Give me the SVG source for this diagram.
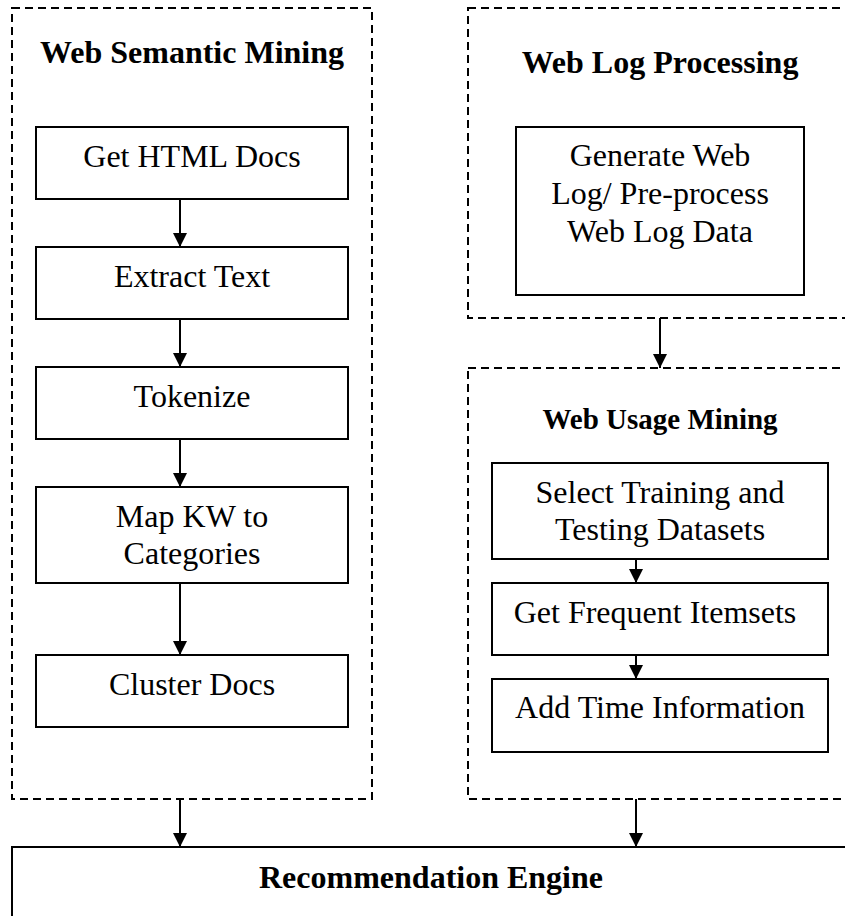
<svg xmlns="http://www.w3.org/2000/svg" width="845" height="916" viewBox="0 0 845 916">
<style>
.dash{fill:none;stroke:#000;stroke-width:2;stroke-dasharray:8 5}
.box{fill:#fff;stroke:#000;stroke-width:2}
.t{font-family:"Liberation Serif","Times New Roman",serif;font-size:32px;fill:#000;text-anchor:middle}
.b{font-weight:bold}
.c{stroke:#000;stroke-width:2;fill:none;marker-end:url(#ah)}
</style>
<defs>
<marker id="ah" viewBox="0 0 14 14" refX="14" refY="7" markerWidth="14" markerHeight="14" markerUnits="userSpaceOnUse" orient="auto">
<path d="M0,0 L14,7 L0,14 Z" fill="#000"/>
</marker>
</defs>
<rect width="845" height="916" fill="#fff"/>
<g id="web-semantic-mining">
<rect class="dash" x="12" y="8" width="360" height="791"/>
<text class="t b" x="192" y="63">Web Semantic Mining</text>
</g>
<g id="get-html-docs">
<rect class="box" x="36" y="127" width="312" height="72"/>
<text class="t" x="192" y="167">Get HTML Docs</text>
</g>
<g id="extract-text">
<rect class="box" x="36" y="247" width="312" height="72"/>
<text class="t" x="192" y="287">Extract Text</text>
</g>
<g id="tokenize">
<rect class="box" x="36" y="367" width="312" height="72"/>
<text class="t" x="192" y="407">Tokenize</text>
</g>
<g id="map-kw">
<rect class="box" x="36" y="487" width="312" height="96"/>
<text class="t" x="192" y="527">Map KW to</text>
<text class="t" x="192" y="564">Categories</text>
</g>
<g id="cluster-docs">
<rect class="box" x="36" y="655" width="312" height="72"/>
<text class="t" x="192" y="695">Cluster Docs</text>
</g>
<g id="web-log-processing">
<rect class="dash" x="468" y="8" width="400" height="310"/>
<text class="t b" x="660" y="73">Web Log Processing</text>
</g>
<g id="generate-web-log">
<rect class="box" x="516" y="127" width="288" height="168"/>
<text class="t" x="660" y="166">Generate Web</text>
<text class="t" x="660" y="204">Log/ Pre-process</text>
<text class="t" x="660" y="242">Web Log Data</text>
</g>
<g id="web-usage-mining">
<rect class="dash" x="468" y="368" width="400" height="431"/>
<text class="t b" x="660" y="429" style="font-size:29px">Web Usage Mining</text>
</g>
<g id="select-datasets">
<rect class="box" x="492" y="463" width="336" height="96"/>
<text class="t" x="660" y="503">Select Training and</text>
<text class="t" x="660" y="540">Testing Datasets</text>
</g>
<g id="frequent-itemsets">
<rect class="box" x="492" y="583" width="336" height="72"/>
<text class="t" x="655" y="623">Get Frequent Itemsets</text>
</g>
<g id="add-time">
<rect class="box" x="492" y="679" width="336" height="73"/>
<text class="t" x="660" y="718">Add Time Information</text>
</g>
<g id="recommendation-engine">
<rect class="box" x="12" y="847" width="850" height="100"/>
<text class="t b" x="431" y="888">Recommendation Engine</text>
</g>
<g id="connectors">
<line class="c" x1="180" y1="199" x2="180" y2="247"/>
<line class="c" x1="180" y1="319" x2="180" y2="367"/>
<line class="c" x1="180" y1="439" x2="180" y2="487"/>
<line class="c" x1="180" y1="583" x2="180" y2="655"/>
<line class="c" x1="660" y1="318" x2="660" y2="368"/>
<line class="c" x1="636" y1="559" x2="636" y2="583"/>
<line class="c" x1="636" y1="655" x2="636" y2="679"/>
<line class="c" x1="180" y1="799" x2="180" y2="847"/>
<line class="c" x1="636" y1="799" x2="636" y2="847"/>
</g>
</svg>
